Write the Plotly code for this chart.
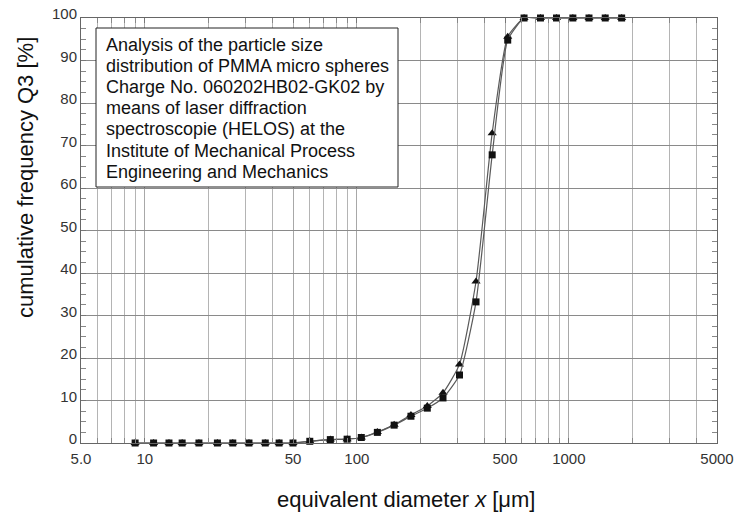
import math
import plotly.graph_objects as go

# HELOS size classes (µm)
diameter = [9, 11, 13, 15, 18, 22, 26, 31, 37, 43, 50, 60, 75, 90, 105, 125, 150,
            180, 215, 255, 305, 365, 435, 515, 615, 735, 875, 1045, 1245, 1485, 1775]
# cumulative frequency Q3 [%]
q3_squares = [0, 0, 0, 0, 0, 0, 0, 0, 0, 0, 0, 0.4, 0.8, 0.9, 1.3, 2.5, 4.2,
              6.3, 8.2, 10.6, 16.0, 33.2, 67.8, 94.8, 100, 100, 100, 100, 100, 100, 100]
q3_triangles = [0, 0, 0, 0, 0, 0, 0, 0, 0, 0, 0, 0.4, 0.8, 0.9, 1.3, 2.6, 4.3,
                6.6, 8.7, 11.8, 18.5, 38.0, 72.9, 95.6, 100, 100, 100, 100, 100, 100, 100]

x_tickvals = [5, 10, 50, 100, 500, 1000, 5000]
x_ticktext = ["5.0", "10", "50", "100", "500", "1000", "5000"]
x_minor = [m * 10 ** e for e in range(0, 4) for m in range(1, 10) if 5 <= m * 10 ** e <= 5000]

info_lines = [
    "Analysis of the particle size",
    "distribution of PMMA micro spheres",
    "Charge No. 060202HB02-GK02 by",
    "means of laser diffraction",
    "spectroscopie (HELOS) at the",
    "Institute of Mechanical Process",
    "Engineering and Mechanics",
]

W, H = 736, 518
L, R, T, B = 81, 19, 18, 75
PW, PH = W - L - R, H - T - B


def px(xp):
    return (xp - L) / PW


def py(yp):
    return (H - B - yp) / PH


FONT = "Liberation Sans, Arial, sans-serif"

fig = go.Figure()
fig.add_trace(go.Scatter(
    x=diameter, y=q3_triangles, mode="lines+markers",
    line=dict(color="#5a5a5a", width=1.2, shape="spline", smoothing=0.5),
    marker=dict(symbol="triangle-up", size=8, color="#111111"),
    cliponaxis=False, showlegend=False))
fig.add_trace(go.Scatter(
    x=diameter, y=q3_squares, mode="lines+markers",
    line=dict(color="#5a5a5a", width=1.2, shape="spline", smoothing=0.5),
    marker=dict(symbol="square", size=7, color="#111111"),
    cliponaxis=False, showlegend=False))

fig.update_layout(
    width=W, height=H,
    margin=dict(l=L, r=R, t=T, b=B, autoexpand=False),
    paper_bgcolor="white", plot_bgcolor="white",
    font=dict(family=FONT, color="#222"),
    xaxis=dict(
        type="log", range=[math.log10(5), math.log10(5000)],
        tickvals=x_tickvals, ticktext=x_ticktext,
        tickfont=dict(size=15, color="#333"),
        ticklabelstandoff=2, automargin=False,
        showgrid=True, gridcolor="#a8a8a8", gridwidth=1,
        ticks="inside", ticklen=5, tickcolor="#777",
        showline=True, linecolor="#666", linewidth=1, mirror="ticks",
        zeroline=False,
        minor=dict(tickvals=x_minor, showgrid=True, gridcolor="#b4b4b4", gridwidth=1,
                   ticks="inside", ticklen=5, tickcolor="#888"),
    ),
    yaxis=dict(
        range=[0, 100], dtick=10, tick0=0,
        tickfont=dict(size=15, color="#333"),
        ticklabelshift=-4, automargin=False,
        showgrid=True, gridcolor="#8a8a8a", gridwidth=1,
        ticks="inside", ticklen=5, tickcolor="#777",
        showline=True, linecolor="#666", linewidth=1, mirror="ticks",
        zeroline=False,
        minor=dict(dtick=2.5, ticks="inside", ticklen=5, tickcolor="#888", showgrid=False),
    ),
)

# info box
fig.add_shape(type="rect", xref="paper", yref="paper",
              x0=px(96), x1=px(398), y0=py(187), y1=py(28),
              fillcolor="white", line=dict(color="#222", width=1), layer="above")
for i, txt in enumerate(info_lines):
    fig.add_annotation(xref="paper", yref="paper", x=px(104), y=py(45 + 21.1 * i),
                       xanchor="left", yanchor="middle", text=txt, showarrow=False,
                       font=dict(size=18, color="#111", family=FONT))

# axis titles
fig.add_annotation(xref="paper", yref="paper", x=px(25), y=py(178), textangle=-90,
                   text="cumulative frequency Q3 [%]", showarrow=False,
                   xanchor="center", yanchor="middle",
                   font=dict(size=22, color="#111", family=FONT))
fig.add_annotation(xref="paper", yref="paper", x=px(406), y=py(500),
                   text="equivalent diameter <i>x</i> [μm]", showarrow=False,
                   xanchor="center", yanchor="middle",
                   font=dict(size=22, color="#111", family=FONT))

fig.write_html("out.html")
